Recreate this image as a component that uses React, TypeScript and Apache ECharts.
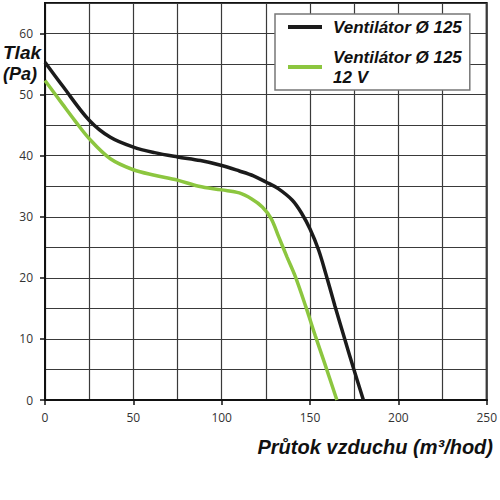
import { useEffect, useRef } from "react";
import * as echarts from "echarts";

// ─── Data ──────────────────────────────────────────────────────────
const BLACK_NAME = "Ventilátor Ø 125";
const GREEN_NAME = "Ventilátor Ø 125\n12 V";

const BLACK_FLOW = [0, 10, 25, 37, 50, 62, 75, 88, 100, 110, 118, 125, 132, 140, 145.4, 150, 154.8, 159, 164.1, 169.3, 174.7, 180.2];
const BLACK_P = [55.3, 51.4, 45.8, 43.0, 41.4, 40.5, 39.8, 39.2, 38.4, 37.5, 36.7, 35.7, 34.6, 32.7, 30.5, 28.0, 24.6, 20.6, 15.4, 10.3, 5.1, 0];

const GREEN_FLOW = [0, 10, 17, 25, 37, 50, 62, 75, 87, 100, 110, 117, 123, 128, 132.3, 137, 141.7, 147.7, 153, 158.3, 165.2];
const GREEN_P = [52.3, 48.4, 45.7, 42.8, 39.5, 37.7, 36.8, 36.0, 35.0, 34.4, 33.9, 32.9, 31.6, 29.7, 26.7, 23.4, 20.2, 15.2, 10.5, 6, 0];

const Y_TICKS = [0, 10, 20, 30, 40, 50, 60];

const Y_TITLE = ["Tlak", "(Pa)"];
const X_TITLE = "Průtok vzduchu (m³/hod)";

// ─── Styling ───────────────────────────────────────────────────────
const BLACK = "#1b1b1b";
const GREEN = "#8cc63f";
const GRID = "#3a3a3a";
const FRAME = "#111";
const TITLE_FONT = "Liberation Sans";
const TICK_FONT = "Open Sans";

const tickLabel = {
  color: "#333",
  fontFamily: TICK_FONT,
  fontSize: 12,
};

export default function App() {
  const ref = useRef<HTMLDivElement>(null);

  useEffect(() => {
    if (!ref.current) return;
    const chart = echarts.init(ref.current, undefined, { renderer: "svg" });

    const titleStyle = {
      fill: "#111",
      fontFamily: TITLE_FONT,
      fontWeight: "bold",
      fontStyle: "italic",
    };

    chart.setOption({
      animation: false,
      backgroundColor: "#fff",
      grid: {
        left: 45,
        right: 11,
        top: 3,
        bottom: 100,
        show: true,
        borderColor: FRAME,
        borderWidth: 2,
      },
      legend: {
        orient: "vertical",
        left: 275,
        top: 14,
        padding: [3, 8, 3, 13],
        itemGap: 10,
        itemWidth: 34,
        itemHeight: 4,
        icon: "rect",
        backgroundColor: "#fff",
        borderColor: "#777",
        borderWidth: 1.5,
        borderRadius: 0,
        textStyle: {
          color: "#111",
          fontFamily: TITLE_FONT,
          fontWeight: "bold",
          fontStyle: "italic",
          fontSize: 17,
          lineHeight: 20,
          padding: [0, 0, 0, 6],
        },
        data: [BLACK_NAME, GREEN_NAME],
      },
      xAxis: [
        // grid lines every 25
        {
          type: "value",
          position: "bottom",
          min: 0,
          max: 250,
          interval: 25,
          axisLine: { show: true, lineStyle: { color: FRAME, width: 2 } },
          axisTick: { show: false },
          axisLabel: { show: false },
          splitLine: { show: true, lineStyle: { color: GRID, width: 1.2 } },
        },
        // ticks and labels every 50
        {
          type: "value",
          position: "bottom",
          min: 0,
          max: 250,
          interval: 50,
          axisLine: { show: true, lineStyle: { color: FRAME, width: 2 } },
          axisTick: { show: true, length: 5, lineStyle: { color: FRAME, width: 1.5 } },
          axisLabel: { ...tickLabel, margin: 11 },
          splitLine: { show: false },
        },
      ],
      yAxis: [
        // grid lines every 5
        {
          type: "value",
          position: "left",
          min: 0,
          max: 65,
          interval: 5,
          axisLine: { show: true, lineStyle: { color: FRAME, width: 2 } },
          axisTick: { show: false },
          axisLabel: { show: false },
          splitLine: { show: true, lineStyle: { color: GRID, width: 1.2 } },
        },
        // ticks and labels every 10
        {
          type: "value",
          position: "left",
          min: 0,
          max: 65,
          interval: 10,
          axisLine: { show: true, lineStyle: { color: FRAME, width: 2 } },
          axisTick: {
            show: true,
            length: 5,
            customValues: Y_TICKS,
            lineStyle: { color: FRAME, width: 1.5 },
          },
          axisLabel: { ...tickLabel, customValues: Y_TICKS, margin: 12 },
          splitLine: { show: false },
        },
      ],
      graphic: [
        { type: "text", left: 3, top: 43, style: { ...titleStyle, fontSize: 19, lineHeight: 16, text: Y_TITLE[0] } },
        { type: "text", left: 3, top: 65, style: { ...titleStyle, fontSize: 18, lineHeight: 15, text: Y_TITLE[1] } },
        { type: "text", right: 7, top: 437, style: { ...titleStyle, fontSize: 20, text: X_TITLE } },
      ],
      series: [
        {
          name: GREEN_NAME,
          type: "line",
          xAxisIndex: 0,
          yAxisIndex: 0,
          smooth: 0.35,
          showSymbol: false,
          color: GREEN,
          lineStyle: { color: GREEN, width: 3.5 },
          data: GREEN_FLOW.map((f, i) => [f, GREEN_P[i]]),
        },
        {
          name: BLACK_NAME,
          type: "line",
          xAxisIndex: 0,
          yAxisIndex: 0,
          smooth: 0.35,
          showSymbol: false,
          color: BLACK,
          lineStyle: { color: BLACK, width: 3.5 },
          data: BLACK_FLOW.map((f, i) => [f, BLACK_P[i]]),
        },
      ],
    });

    return () => chart.dispose();
  }, []);

  return (
    <div
      ref={ref}
      style={{ position: "absolute", left: 0, top: 0, width: 500, height: 500 }}
    />
  );
}
